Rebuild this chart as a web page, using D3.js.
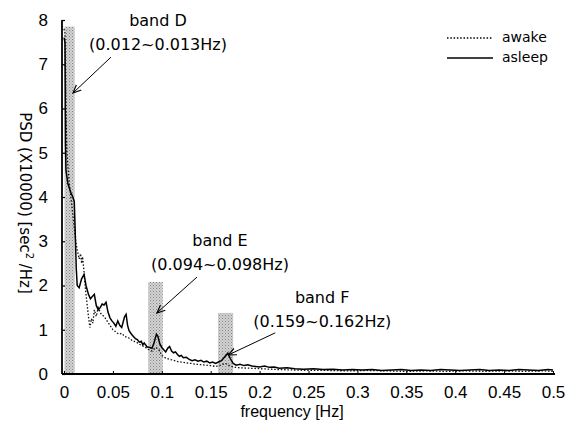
<!DOCTYPE html>
<html>
<head>
<meta charset="utf-8">
<script src="https://cdn.jsdelivr.net/npm/d3@7"></script>
<style>
  body { margin: 0; background: #fff; }
  svg { display: block; }
  .tick text { font-family: "Liberation Sans", Arial, sans-serif; font-size: 17px; fill: #000; }
  .lbl { font-family: "DejaVu Sans", sans-serif; fill: #000; }
</style>
</head>
<body>
<div id="chart"></div>
<script>
// asleep spectrum (solid)
var asleepFreq = [0, 0.001, 0.0015, 0.002, 0.004, 0.007, 0.009, 0.0105, 0.0115, 0.0125, 0.0135, 0.0155, 0.018, 0.0205, 0.0225, 0.025, 0.027, 0.029, 0.031, 0.033, 0.035, 0.037, 0.039, 0.041, 0.043, 0.045, 0.047, 0.049, 0.051, 0.053, 0.055, 0.057, 0.059, 0.062, 0.0635, 0.065, 0.0665, 0.069, 0.071, 0.073, 0.075, 0.077, 0.079, 0.0805, 0.082, 0.085, 0.088, 0.090, 0.092, 0.0945, 0.096, 0.098, 0.100, 0.102, 0.104, 0.106, 0.108, 0.110, 0.112, 0.114, 0.116, 0.118, 0.120, 0.122, 0.125, 0.128, 0.131, 0.134, 0.137, 0.140, 0.143, 0.146, 0.149, 0.152, 0.155, 0.158, 0.161, 0.164, 0.1675, 0.170, 0.173, 0.176, 0.180, 0.184, 0.188, 0.192, 0.196, 0.200, 0.205, 0.210, 0.215, 0.220, 0.228, 0.236, 0.245, 0.255, 0.265, 0.275, 0.285, 0.295, 0.305, 0.315, 0.325, 0.335, 0.345, 0.355, 0.365, 0.375, 0.385, 0.395, 0.405, 0.415, 0.425, 0.435, 0.445, 0.455, 0.465, 0.475, 0.485, 0.495, 0.5];
var asleepPsd = [7.6, 7.5, 5.2, 4.6, 4.3, 4.1, 4.0, 3.9, 3.2, 2.4, 2.0, 1.95, 2.15, 2.25, 2.0, 1.8, 1.7, 1.75, 1.8, 1.55, 1.45, 1.5, 1.58, 1.56, 1.62, 1.4, 1.27, 1.2, 1.15, 1.08, 1.2, 1.1, 1.05, 1.3, 1.35, 1.1, 0.98, 0.9, 0.85, 0.8, 0.78, 0.72, 0.74, 0.66, 0.7, 0.61, 0.6, 0.58, 0.7, 0.9, 0.85, 0.68, 0.6, 0.55, 0.5, 0.58, 0.62, 0.52, 0.48, 0.5, 0.44, 0.4, 0.42, 0.37, 0.38, 0.33, 0.3, 0.32, 0.29, 0.31, 0.27, 0.29, 0.25, 0.27, 0.24, 0.27, 0.3, 0.38, 0.47, 0.35, 0.24, 0.2, 0.22, 0.19, 0.21, 0.18, 0.17, 0.16, 0.18, 0.15, 0.16, 0.13, 0.14, 0.12, 0.11, 0.12, 0.1, 0.11, 0.09, 0.1, 0.09, 0.1, 0.08, 0.09, 0.1, 0.08, 0.09, 0.08, 0.1, 0.09, 0.08, 0.09, 0.1, 0.08, 0.09, 0.08, 0.1, 0.09, 0.08, 0.1, 0.09];

// awake spectrum (dotted)
var awakeFreq = [0, 0.001, 0.002, 0.003, 0.005, 0.008, 0.010, 0.012, 0.014, 0.0155, 0.017, 0.018, 0.019, 0.0205, 0.022, 0.0235, 0.025, 0.0265, 0.028, 0.0295, 0.031, 0.033, 0.035, 0.038, 0.041, 0.044, 0.047, 0.050, 0.053, 0.056, 0.059, 0.062, 0.066, 0.070, 0.074, 0.078, 0.082, 0.086, 0.090, 0.094, 0.097, 0.100, 0.104, 0.108, 0.112, 0.116, 0.120, 0.125, 0.130, 0.135, 0.140, 0.145, 0.150, 0.155, 0.160, 0.165, 0.170, 0.175, 0.180, 0.19, 0.20, 0.21, 0.22, 0.235, 0.25, 0.27, 0.29, 0.31, 0.33, 0.35, 0.37, 0.39, 0.41, 0.43, 0.45, 0.47, 0.49, 0.5];
var awakePsd = [7.8, 7.7, 6.0, 5.0, 4.4, 3.8, 3.4, 3.0, 2.75, 2.6, 2.72, 2.5, 2.65, 2.3, 1.9, 1.6, 1.3, 1.05, 1.25, 1.15, 1.45, 1.3, 1.5, 1.35, 1.3, 1.2, 1.1, 1.0, 0.95, 0.9, 0.92, 0.85, 0.82, 0.75, 0.72, 0.66, 0.62, 0.56, 0.52, 0.6, 0.55, 0.42, 0.36, 0.33, 0.31, 0.28, 0.27, 0.25, 0.24, 0.22, 0.21, 0.2, 0.19, 0.17, 0.2, 0.24, 0.18, 0.15, 0.14, 0.13, 0.12, 0.11, 0.1, 0.09, 0.08, 0.08, 0.07, 0.08, 0.07, 0.06, 0.07, 0.06, 0.07, 0.06, 0.07, 0.06, 0.07, 0.06];

// shaded bands as drawn: [from, to] in Hz, and top in PSD units
var bandNames = ["band D", "band E", "band F"];
var bandRanges = ["(0.012~0.013Hz)", "(0.094~0.098Hz)", "(0.159~0.162Hz)"];
var bandExtent = [[0.0005, 0.011], [0.086, 0.101], [0.1575, 0.173]];
var bandTop = [7.85, 2.08, 1.38];

var xTicks = [0, 0.05, 0.1, 0.15, 0.2, 0.25, 0.3, 0.35, 0.4, 0.45, 0.5];
var yTicks = [0, 1, 2, 3, 4, 5, 6, 7, 8];

var W = 573, H = 423;
var svg = d3.select("#chart").append("svg").attr("width", W).attr("height", H);

var x = d3.scaleLinear().domain([0, 0.5]).range([64, 553]);
var y = d3.scaleLinear().domain([0, 8]).range([374, 20]);

var defs = svg.append("defs");
var pat = defs.append("pattern")
  .attr("id", "stip")
  .attr("width", 3).attr("height", 3)
  .attr("patternUnits", "userSpaceOnUse");
pat.append("rect").attr("width", 3).attr("height", 3).attr("fill", "#d2d2d2");
pat.append("rect").attr("width", 1).attr("height", 1).attr("fill", "#858585");
pat.append("rect").attr("x", 1.5).attr("y", 1.5).attr("width", 1).attr("height", 1).attr("fill", "#a0a0a0");

defs.append("marker")
  .attr("id", "arr")
  .attr("viewBox", "0 0 10 10")
  .attr("refX", 9).attr("refY", 5)
  .attr("markerWidth", 9).attr("markerHeight", 9)
  .attr("markerUnits", "userSpaceOnUse")
  .attr("orient", "auto")
  .append("path")
  .attr("d", "M0,1 L9,5 L0,9")
  .attr("fill", "none")
  .attr("stroke", "#000")
  .attr("stroke-width", 1.3);

// bands
svg.append("g")
  .selectAll("rect")
  .data(bandExtent)
  .enter()
  .append("rect")
  .attr("x", function(d) { return x(d[0]); })
  .attr("width", function(d) { return x(d[1]) - x(d[0]); })
  .attr("y", function(d, i) { return y(bandTop[i]); })
  .attr("height", function(d, i) { return y(0) - y(bandTop[i]); })
  .attr("fill", "url(#stip)");

// curves
var line = d3.line()
  .x(function(d) { return x(d[0]); })
  .y(function(d) { return y(d[1]); });

var awake = d3.zip(awakeFreq, awakePsd);
var asleep = d3.zip(asleepFreq, asleepPsd);

svg.append("path")
  .datum(awake)
  .attr("d", line)
  .attr("fill", "none")
  .attr("stroke", "#111")
  .attr("stroke-width", 1.3)
  .attr("stroke-dasharray", "1.5,1.8");

svg.append("path")
  .datum(asleep)
  .attr("d", line)
  .attr("fill", "none")
  .attr("stroke", "#000")
  .attr("stroke-width", 1.5);

// axes
var xAxis = d3.axisBottom(x)
  .tickValues(xTicks)
  .tickFormat(function(d) { return d3.format("")(d); })
  .tickSize(-3)
  .tickPadding(12);
var gx = svg.append("g").attr("transform", "translate(0," + y(0) + ")").call(xAxis);
gx.select(".domain").attr("stroke-width", 1.8).attr("d", "M62,0H555");

var yAxis = d3.axisLeft(y)
  .tickValues(yTicks)
  .tickSize(-3)
  .tickPadding(14);
var gy = svg.append("g").attr("transform", "translate(62,0)").call(yAxis);
gy.select(".domain").attr("stroke-width", 1.8).attr("d", "M0," + y(0) + "V" + y(8));
gy.selectAll(".tick line").attr("stroke-width", 1.2);

// axis titles
svg.append("text")
  .attr("class", "lbl")
  .attr("x", 292).attr("y", 417)
  .attr("text-anchor", "middle")
  .style("font-family", "Liberation Sans, Arial, sans-serif")
  .style("font-size", "16px")
  .text("frequency [Hz]");

var yt = svg.append("text")
  .attr("class", "lbl")
  .attr("transform", "translate(20,203) rotate(90)")
  .attr("text-anchor", "middle")
  .style("font-size", "15px");
yt.append("tspan").text("PSD (X10000) [sec");
yt.append("tspan").attr("dy", -6).style("font-size", "10px").text("2");
yt.append("tspan").attr("dy", 6).text(" /Hz]");

// band annotations: label centre, and arrow from/to, all in data units
var noteAt = [[0.0961, 7.86], [0.1595, 2.89], [0.264, 1.6]];
var arrowFrom = [[0.048, 7.16], [0.136, 2.19], [0.216, 0.93]];
var arrowTo = [[0.0092, 6.35], [0.095, 1.38], [0.168, 0.43]];

var notes = svg.append("g");
bandNames.forEach(function(name, i) {
  var t = notes.append("text")
    .attr("class", "lbl")
    .attr("text-anchor", "middle")
    .attr("x", x(noteAt[i][0]))
    .attr("y", y(noteAt[i][1]))
    .style("font-size", "16px");
  t.append("tspan").text(name);
  t.append("tspan").attr("x", x(noteAt[i][0])).attr("dy", 24).text(bandRanges[i]);

  notes.append("line")
    .attr("x1", x(arrowFrom[i][0])).attr("y1", y(arrowFrom[i][1]))
    .attr("x2", x(arrowTo[i][0])).attr("y2", y(arrowTo[i][1]))
    .attr("stroke", "#000")
    .attr("stroke-width", 1)
    .attr("marker-end", "url(#arr)");
});

// legend
var legend = svg.append("g");
var legendNames = ["awake", "asleep"];
legendNames.forEach(function(n, i) {
  var ly = 38 + i * 20;
  legend.append("line")
    .attr("x1", 447).attr("x2", 493)
    .attr("y1", ly).attr("y2", ly)
    .attr("stroke", "#000")
    .attr("stroke-width", i === 0 ? 1.3 : 1.5)
    .attr("stroke-dasharray", i === 0 ? "1.5,1.8" : null);
  legend.append("text")
    .attr("class", "lbl")
    .attr("x", 502).attr("y", ly + 4)
    .style("font-size", "14px")
    .text(n);
});
</script>
</body>
</html>
